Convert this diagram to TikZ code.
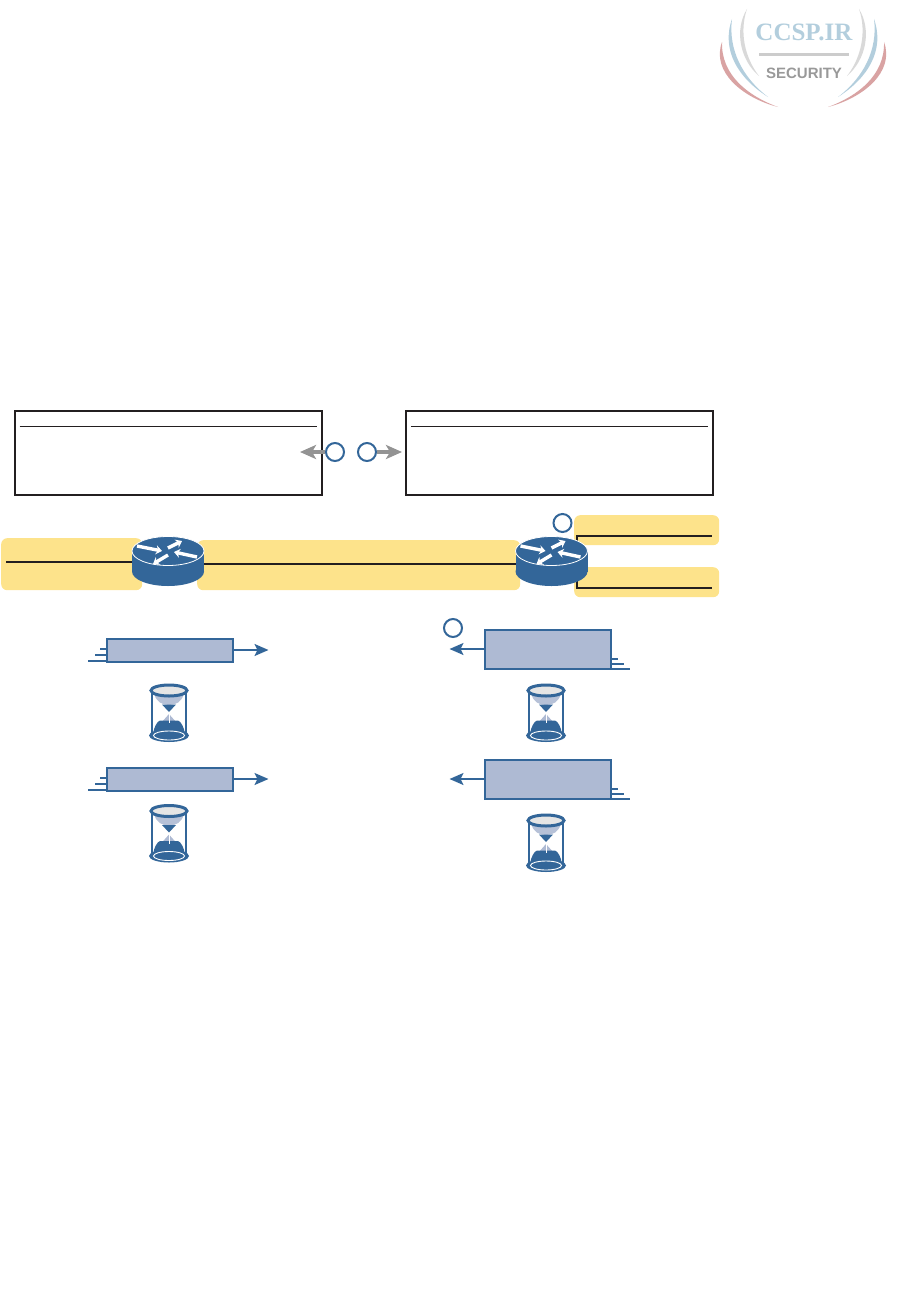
\documentclass[tikz,border=0pt]{standalone}
\usepackage{fontspec}
\usetikzlibrary{positioning,arrows.meta}
\newfontfamily\logoserif{Liberation Serif}
\newfontfamily\logosans{Liberation Sans}
\definecolor{ciscoblue}{HTML}{336699}
\definecolor{boxblue}{HTML}{AEBAD3}
\definecolor{netyellow}{HTML}{FDE38B}
\definecolor{inkblack}{HTML}{231F20}
\definecolor{arrowgrey}{HTML}{939393}
\definecolor{logoblue}{HTML}{B3CEDD}
\definecolor{logored}{HTML}{D9A3A3}
\tikzset{
  tablebox/.style={draw=inkblack, line width=2.4pt, fill=white, rectangle, anchor=north west, inner sep=0pt, minimum width=307pt, minimum height=84pt},
  netzone/.style={fill=netyellow, rectangle, rounded corners=6pt, anchor=north west, inner sep=0pt},
  stepmark/.style={draw=ciscoblue, line width=2pt, fill=white, circle, inner sep=0pt, minimum size=18pt},
  segbox/.style={draw=ciscoblue, line width=2pt, fill=boxblue, rectangle, anchor=north west, inner sep=0pt, minimum width=126pt},
  wire/.style={draw=inkblack, line width=2pt},
  flow/.style={draw=ciscoblue, line width=2pt, -{Stealth[length=14pt,width=12pt,inset=3pt]}},
  greyflow/.style={draw=arrowgrey, line width=4pt, -{Stealth[length=16pt,width=14pt,inset=4pt]}},
  speed/.style={draw=ciscoblue, line width=2pt},
  router/.pic={
    \fill[ciscoblue] (-36,-13) rectangle (36,7.5);
    \fill[ciscoblue] (0,7.5) ellipse [x radius=36, y radius=14.5];
    \draw[white, fill=ciscoblue, line width=0.8pt] (0,-13) ellipse [x radius=36, y radius=14.5];
    \foreach \tx/\ty/\hx/\hy in {-31/-18/-6/-13, 0/-16/14/-23, 0/-9/-15/0, 29/-7/6/-12}
      \draw[white, line width=3.4pt, -{Stealth[length=6pt,width=9pt]}] (\tx,\ty) -- (\hx,\hy);
  },
  hourglass/.pic={
    % frame
    \draw[ciscoblue, line width=1.2pt] (-17,-20) -- (-17,20) (17,-20) -- (17,20);
    % sand
    \fill[boxblue!90] (-15,-20) .. controls (-13,-11) and (-7,-8) .. (0,-8) .. controls (7,-8) and (13,-11) .. (15,-20) -- cycle;
    \fill[ciscoblue] (-7,-8.5) -- (7,-8.5) -- (0,-1) -- cycle;
    \fill[boxblue] (0,1) -- (8,10) -- (-8,10) -- cycle;
    \fill[ciscoblue] (-16,21) .. controls (-15,14) and (-12,8.5) .. (-9,7.5) -- (9,7.5) .. controls (12,8.5) and (15,14) .. (16,21) -- cycle;
    \draw[white, line width=1pt] (0,-1) -- (0,10);
    % caps
    \draw[ciscoblue, fill=black!10, line width=3pt] (0,-22.5) ellipse [x radius=18, y radius=5.5];
    \fill[ciscoblue] (0,22.5) ellipse [x radius=20, y radius=6.5];
    \draw[white, line width=0.9pt] (0,22.5) ellipse [x radius=15.5, y radius=4.5];
  }
}

\begin{document}
\begin{tikzpicture}[x=1pt, y=-1pt]
\useasboundingbox (0,0) rectangle (916,1314);

% Logo
\foreach \side in {1,-1} {
  \begin{scope}[shift={(803,0)}, xscale=\side]
    \fill[black!15] (-56,9) .. controls (-69,30) and (-63,60) .. (-44,76) .. controls (-58,58) and (-64,32) .. cycle;
    \fill[logoblue] (-71,19) .. controls (-82,50) and (-65,78) .. (-35,97) .. controls (-60,78) and (-75,50) .. cycle;
    \fill[logored] (-81,42) .. controls (-92,72) and (-60,98) .. (-25,107) .. controls (-55,96) and (-82,75) .. cycle;
  \end{scope}
}
\node[inner sep=0pt, text=logoblue, font=\logoserif\bfseries\fontsize{25}{25}\selectfont] (logoname) at (804,32) {CCSP.IR};
\node[inner sep=0pt, text=black!40, font=\logosans\bfseries\fontsize{15}{15}\selectfont, below=27pt of logoname] (logosub) {SECURITY};
\fill[black!20] (759,53) rectangle (849,56);

% Tables
\node[tablebox] (tableA) at (13.5,409.5) {};
\node[tablebox, right=82pt of tableA] (tableB) {};
\draw[inkblack, line width=1.2pt] ([xshift=6pt,yshift=-17pt]tableA.north west) -- ([xshift=-6pt,yshift=-17pt]tableA.north east);
\draw[inkblack, line width=1.2pt] ([xshift=6pt,yshift=-17pt]tableB.north west) -- ([xshift=-6pt,yshift=-17pt]tableB.north east);

% Yellow networks
\node[netzone, minimum width=141pt, minimum height=52pt] (zoneL) at (1,538) {};
\node[netzone, minimum width=323pt, minimum height=50pt] (zoneM) at (197,540) {};
\node[netzone, minimum width=145pt, minimum height=30pt] (zoneT) at (574,515) {};
\node[netzone, minimum width=145pt, minimum height=30pt] (zoneB) at (574,567) {};

% Wires
\coordinate (rtrA) at (168,564);
\coordinate (rtrB) at (551.5,564);
\coordinate (endL) at (6,562);
\coordinate (endT) at (712,536);
\coordinate (endB) at (712,588);
\coordinate (dropT) at (577,560);
\coordinate (dropB) at (577,575);
\draw[wire] (endL) -- ([yshift=2pt]rtrA);
\draw[wire] (rtrA) -- (rtrB);
\draw[wire] (dropT) |- (endT);
\draw[wire] (dropB) |- (endB);

% Routers
\pic at (rtrA) {router};
\pic at (rtrB) {router};

% Step marks
\node[stepmark] (markA) at (335,452) {};
\node[stepmark, right=12pt of markA] (markB) {};
\node[stepmark] (markC) at (562.5,523) {};
\node[stepmark] (markD) at (453,628) {};
\coordinate (tipA) at (300,452);
\coordinate (tipB) at (402,452);
\draw[greyflow] (markA) -- (tipA);
\draw[greyflow] (markB) -- (tipB);

% Segments
\node[segbox, minimum height=23pt] (segA) at (105.5,637.5) {};
\node[segbox, minimum height=23pt] (segB) at (105.5,766.5) {};
\node[segbox, minimum height=39pt] (segC) at (483.5,628.5) {};
\node[segbox, minimum height=39pt] (segD) at (483.5,758.5) {};
\coordinate[right=35pt of segA] (outA);
\coordinate[right=35pt of segB] (outB);
\coordinate[left=34pt of segC] (outC);
\coordinate[left=34pt of segD] (outD);
\draw[flow] (segA) -- (outA);
\draw[flow] (segB) -- (outB);
\draw[flow] (segC) -- (outC);
\draw[flow] (segD) -- (outD);

% Speed lines
\foreach \seg in {segA,segB}
  \foreach \dy/\len in {1/6, -4.5/11, -10.5/18}
    \draw[speed] ([yshift=\dy pt]\seg.west) -- ++(-\len,0);
\foreach \seg in {segC,segD}
  \foreach \dy/\len in {11/6, 5.5/12, 1/18}
    \draw[speed] ([yshift=\dy pt]\seg.south east) -- ++(\len,0);

% Hourglasses
\pic at (169,713) {hourglass};
\pic at (169,833.5) {hourglass};
\pic at (546,713) {hourglass};
\pic at (546,843) {hourglass};

\end{tikzpicture}
\end{document}
